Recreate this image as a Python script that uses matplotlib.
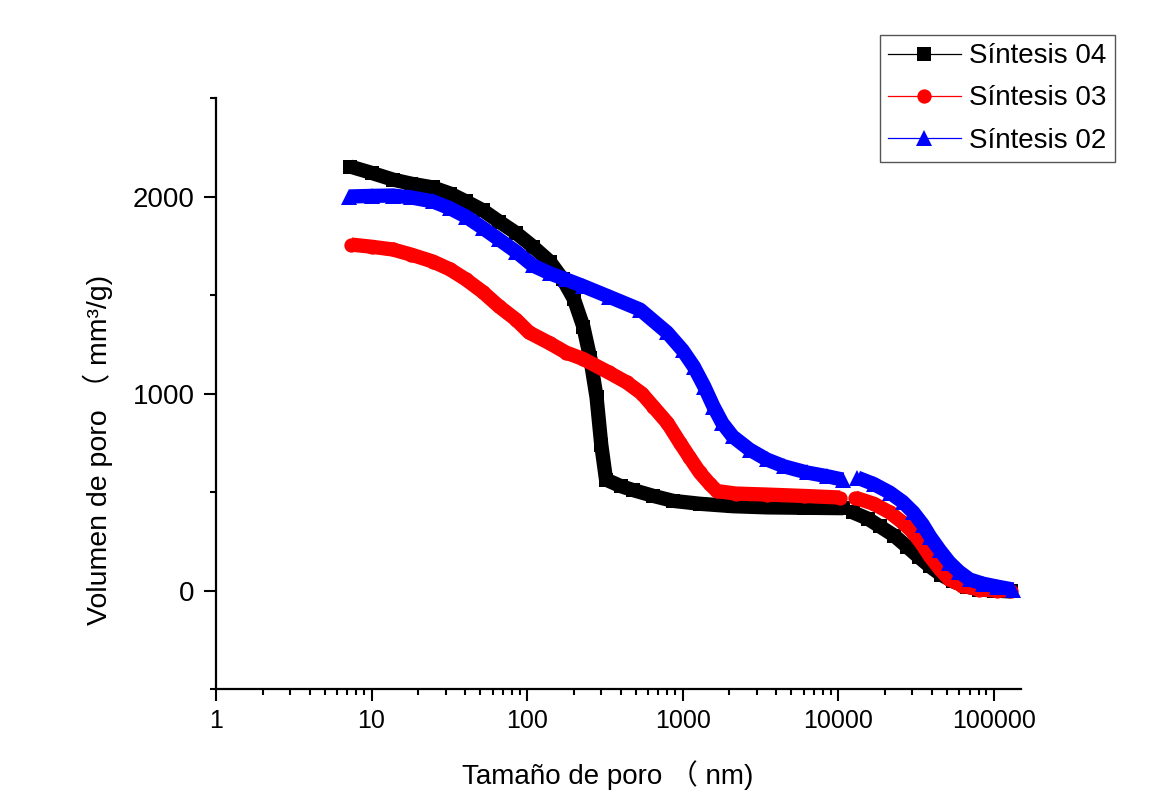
import numpy as np
import matplotlib
matplotlib.use('Agg')
import matplotlib.pyplot as plt
from matplotlib.lines import Line2D
from matplotlib.ticker import MultipleLocator, LogLocator, FuncFormatter, NullFormatter

plt.rcParams['font.family'] = ['Liberation Sans', 'Noto Sans CJK SC', 'DejaVu Sans']

# ---- data (pore size in nm, pore volume in mm3/g) ----
# Síntesis 04 (low-pressure / high-pressure segments)
x04_low = [7.3, 10, 13.7, 18, 24.8, 32, 40.5, 52, 66, 85, 109, 140, 170, 200, 230, 255, 280, 300, 322,
           400, 480, 650, 870, 1300, 2100, 3500, 6000, 10800]
y04_low = [2152, 2120, 2086, 2065, 2046, 2015, 1975, 1930, 1873, 1815, 1746, 1670, 1579, 1480, 1340, 1180,
           980, 740, 563, 530, 510, 480, 455, 440, 428, 422, 420, 418]
x04_high = [12500, 15500, 18600, 23000, 27700, 33000, 39000, 46000, 55000, 67000, 81000, 100000, 130000]
y04_high = [396, 365, 325, 278, 223, 170, 122, 80, 46, 20, 5, 0, -5]

# Síntesis 03
x03_low = [7.4, 10, 13.7, 18, 24.8, 32, 40.5, 52, 66, 85, 103, 140, 178, 230, 335, 438, 547, 647, 800,
           960, 1100, 1290, 1500, 1660, 2200, 3480, 6000, 10300]
y03_low = [1756, 1745, 1731, 1705, 1670, 1630, 1579, 1515, 1442, 1375, 1310, 1255, 1208, 1175, 1107, 1056,
           1000, 934, 850, 751, 680, 599, 540, 505, 492, 487, 480, 472]
x03_high = [12800, 17000, 21500, 26000, 30500, 35000, 39000, 45000, 52000, 63000, 81000, 105000, 130000]
y03_high = [472, 440, 396, 345, 294, 230, 173, 110, 56, 25, 5, 0, 0]

# Síntesis 02
x02_low = [7.2, 10, 13.7, 18, 24.8, 32, 40.5, 52, 66, 85, 109, 140, 178, 230, 335, 533, 795, 1000, 1180,
           1380, 1580, 1800, 2100, 2700, 3480, 4500, 6300, 8500, 10700]
y02_low = [2000, 2003, 2005, 1995, 1975, 1940, 1898, 1840, 1782, 1720, 1650, 1610, 1579, 1545, 1492, 1426,
           1310, 1220, 1137, 1035, 934, 850, 782, 715, 665, 630, 599, 580, 563]
x02_high = [13300, 17000, 21500, 26000, 30500, 35000, 39000, 45000, 52000, 60000, 70000, 85000, 105000, 133000]
y02_high = [573, 540, 497, 450, 396, 335, 274, 205, 142, 95, 56, 35, 20, 5]

labels = ['Síntesis 04', 'Síntesis 03', 'Síntesis 02']
colors = ['#000000', '#ff0000', '#0000ff']
markers = ['s', 'o', '^']

W, H = 1171, 805
fig = plt.figure(figsize=(W / 100, H / 100), dpi=100)
ax = fig.add_axes([216 / W, 1 - 689 / H, 805 / W, 591 / H])

data = [((x04_low, y04_low), (x04_high, y04_high)),
        ((x03_low, y03_low), (x03_high, y03_high)),
        ((x02_low, y02_low), (x02_high, y02_high))]

band = 10.3
for i, segs in enumerate(data):
    for xs, ys in segs:
        ax.plot(xs, ys, color=colors[i], lw=band, solid_joinstyle='round',
                solid_capstyle='butt', zorder=2 + i)
        ax.plot(xs, ys, ls='none', marker=markers[i], ms=band + (1.5 if markers[i] == '^' else 0),
                color=colors[i], mec=colors[i], mew=0, zorder=2 + i)

ax.set_xscale('log')
ax.set_xlim(1, 1.5e5)
ax.set_ylim(-500, 2500)

for s in ['top', 'right']:
    ax.spines[s].set_visible(False)
for s in ['left', 'bottom']:
    ax.spines[s].set_linewidth(1.6)

ax.xaxis.set_major_locator(LogLocator(base=10))
ax.xaxis.set_minor_locator(LogLocator(base=10, subs=np.arange(2, 10)))
ax.xaxis.set_major_formatter(FuncFormatter(lambda v, p: f'{int(round(v))}'))
ax.xaxis.set_minor_formatter(NullFormatter())
ax.yaxis.set_major_locator(MultipleLocator(1000))
ax.yaxis.set_minor_locator(MultipleLocator(500))

ax.tick_params(which='major', direction='out', length=8.5, width=1.5)
ax.tick_params(which='minor', direction='out', length=4.5, width=1.5)
ax.tick_params(axis='x', which='major', labelsize=18, pad=6)
ax.tick_params(axis='y', which='major', labelsize=20, pad=7)

ax.set_xlabel('Tamaño de poro （ nm)', fontsize=20)
ax.set_ylabel('Volumen de poro （ mm³/g)', fontsize=20.5)
ax.xaxis.set_label_coords(0.487, -0.12)
ax.yaxis.set_label_coords(-0.128, 0.405)

handles = [Line2D([], [], color=colors[i], lw=0.9, marker=markers[i],
                  ms=band + (1.5 if markers[i] == '^' else 0), mew=0) for i in range(3)]
leg = fig.legend(handles, labels, loc='upper left', bbox_to_anchor=(880 / W, 1 - 35 / H),
                 frameon=True, fancybox=False, edgecolor='#555555', framealpha=1,
                 fontsize=20, handlelength=2.6, handletextpad=0.3, labelspacing=0.58,
                 borderpad=0.3, borderaxespad=0)
leg.get_frame().set_linewidth(1.0)

fig.savefig('out.png', dpi=100)
